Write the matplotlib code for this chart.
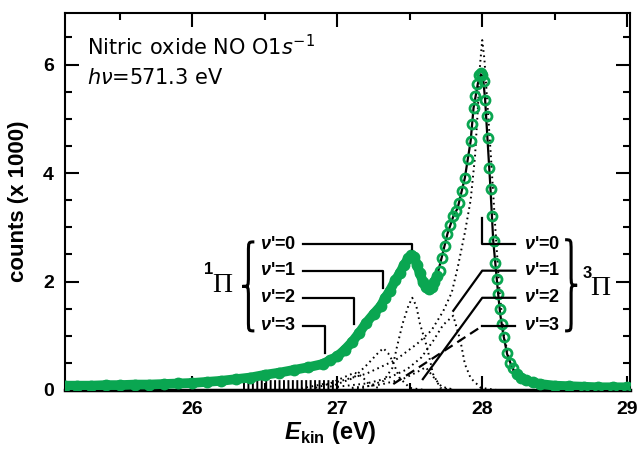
import numpy as np
import matplotlib
matplotlib.use('Agg')
import matplotlib.pyplot as plt
from matplotlib.path import Path
from matplotlib.patches import PathPatch

plt.rcParams['font.family'] = ['Liberation Sans', 'DejaVu Sans']
plt.rcParams['mathtext.fontset'] = 'custom'
plt.rcParams['mathtext.it'] = 'DejaVu Sans:italic'
plt.rcParams['mathtext.rm'] = 'Liberation Sans:bold'
plt.rcParams['mathtext.bf'] = 'Liberation Sans:italic:bold'
plt.rcParams['mathtext.sf'] = 'DejaVu Sans'
plt.rcParams['lines.scale_dashes'] = False

# ---------------- data ----------------
data_e = [25.12, 25.2, 25.3, 25.4, 25.5, 25.6, 25.7, 25.8, 25.9, 26.0, 26.1, 26.2, 26.3, 26.4,
          26.5, 26.6, 26.7, 26.8, 26.9, 26.95, 27.0, 27.05, 27.1, 27.15, 27.2, 27.25, 27.3,
          27.33, 27.36, 27.4, 27.43, 27.46, 27.49, 27.51, 27.53, 27.55, 27.57, 27.59, 27.61,
          27.63, 27.65, 27.67, 27.69, 27.71, 27.72, 27.74, 27.76, 27.78, 27.80, 27.82, 27.84,
          27.86, 27.88, 27.90, 27.92, 27.93, 27.94, 27.95, 27.965, 27.98, 27.99, 28.00, 28.01,
          28.02, 28.03, 28.04, 28.05, 28.06, 28.07, 28.08, 28.09, 28.10, 28.11, 28.12, 28.135,
          28.15, 28.17, 28.19, 28.21, 28.24, 28.27, 28.30, 28.35, 28.40, 28.50, 28.60, 28.70,
          28.80, 28.90, 29.0]
data_y = [0.08, 0.08, 0.08, 0.09, 0.09, 0.10, 0.10, 0.11, 0.12, 0.13, 0.15, 0.17, 0.20, 0.23,
          0.28, 0.32, 0.37, 0.42, 0.48, 0.55, 0.62, 0.74, 0.88, 1.05, 1.24, 1.40, 1.55,
          1.70, 1.82, 2.02, 2.15, 2.30, 2.43, 2.48, 2.46, 2.30, 2.15, 2.00, 1.90,
          1.86, 1.90, 2.00, 2.10, 2.20, 2.44, 2.65, 2.88, 3.05, 3.20, 3.30, 3.45,
          3.67, 3.91, 4.25, 4.59, 4.90, 5.20, 5.42, 5.65, 5.80, 5.85, 5.80, 5.70,
          5.35, 5.05, 4.65, 4.10, 3.70, 3.20, 2.75, 2.35, 2.05, 1.77, 1.50, 1.22,
          0.98, 0.68, 0.50, 0.40, 0.30, 0.22, 0.18, 0.14, 0.11, 0.08, 0.07, 0.06,
          0.05, 0.05, 0.05]

fit_e = [25.12, 25.5, 26.0, 26.4, 26.7, 26.9, 27.0, 27.1, 27.2, 27.3, 27.4, 27.48, 27.52,
         27.56, 27.6, 27.64, 27.68, 27.72, 27.76, 27.80, 27.83, 27.88, 27.92, 27.94, 27.97,
         27.99, 28.005, 28.02, 28.055, 28.076, 28.11, 28.124, 28.145, 28.172, 28.207, 28.262,
         28.33, 28.45, 28.7, 29.02]
fit_y = [0.08, 0.09, 0.13, 0.23, 0.37, 0.47, 0.62, 0.88, 1.24, 1.55, 2.02, 2.40, 2.47,
         2.25, 1.95, 1.88, 2.02, 2.44, 2.88, 3.20, 3.35, 3.91, 4.59, 5.20, 5.65,
         5.82, 5.78, 5.35, 3.80, 2.75, 1.77, 1.40, 1.03, 0.66, 0.41, 0.22,
         0.15, 0.08, 0.05, 0.04]

# component profiles (dotted)
t3_v0_e = [27.00, 27.20, 27.40, 27.55, 27.65, 27.73, 27.79, 27.83, 27.88, 27.92, 27.95, 27.97,
           27.985, 28.00, 28.015, 28.03, 28.06, 28.09, 28.12, 28.15, 28.20, 28.30, 28.50]
t3_v0_y = [0.15, 0.30, 0.55, 0.85, 1.10, 1.45, 1.80, 2.25, 2.90, 3.50, 4.30, 5.20,
           6.00, 6.45, 6.10, 5.50, 4.30, 3.00, 1.80, 1.00, 0.40, 0.10, 0.02]
t3_v1_e = [27.00, 27.20, 27.35, 27.48, 27.58, 27.66, 27.73, 27.80, 27.85, 27.88, 27.92, 27.99, 28.10]
t3_v1_y = [0.06, 0.12, 0.22, 0.38, 0.60, 0.90, 1.20, 1.37, 0.90, 0.48, 0.22, 0.04, 0.00]
t3_v2_e = [27.10, 27.30, 27.45, 27.55, 27.61, 27.66, 27.72, 27.80]
t3_v2_y = [0.04, 0.10, 0.20, 0.33, 0.42, 0.25, 0.06, 0.01]
s1_v0_e = [27.10, 27.18, 27.32, 27.38, 27.41, 27.45, 27.49, 27.517, 27.545, 27.57, 27.62, 27.66, 27.71, 27.80]
s1_v0_y = [0.01, 0.04, 0.17, 0.41, 0.78, 1.22, 1.55, 1.70, 1.55, 1.22, 0.78, 0.30, 0.04, 0.00]
s1_v1_e = [26.95, 27.00, 27.11, 27.21, 27.28, 27.317, 27.35, 27.38, 27.43, 27.50, 27.60]
s1_v1_y = [0.06, 0.11, 0.22, 0.48, 0.68, 0.77, 0.68, 0.54, 0.22, 0.04, 0.00]
s1_v2_e = [26.85, 26.95, 27.05, 27.12, 27.17, 27.22, 27.30]
s1_v2_y = [0.04, 0.12, 0.24, 0.32, 0.25, 0.10, 0.02]
s1_v3_e = [26.75, 26.85, 26.92, 26.97, 27.03]
s1_v3_y = [0.03, 0.08, 0.12, 0.08, 0.02]

comb_e = [26.35, 27.0]
comb_y = [0.10, 0.10]

xticks = [26, 27, 28, 29]
yticks = [0, 2, 4, 6]
vib_labels = ["0", "1", "2", "3"]

# leader geometry (label rows and target points)
row_y = [2.69, 2.20, 1.70, 1.18]
s1_target_e = [27.517, 27.317, 27.117, 26.917]
s1_target_y = [2.60, 1.88, 1.22, 0.68]
t3_target_e = [28.0, 27.80, 27.59, 27.386]
t3_target_y = [3.17, 1.46, 0.20, 0.11]

green = '#0aa651'

fig = plt.figure(figsize=(6.39, 4.49), dpi=100)
ax = fig.add_axes([65/639, 59/449, 565/639, 377/449])
ax.set_xlim(25.12, 29.02)
ax.set_ylim(0, 6.95)

# components
for ce, cy in [(t3_v0_e, t3_v0_y), (t3_v1_e, t3_v1_y), (t3_v2_e, t3_v2_y),
               (s1_v0_e, s1_v0_y), (s1_v1_e, s1_v1_y), (s1_v2_e, s1_v2_y), (s1_v3_e, s1_v3_y)]:
    ax.plot(ce, cy, color='black', lw=1.4, linestyle=(0, (1.2, 2.6)), zorder=2)

ax.plot(comb_e, comb_y, color='black', lw=7, dashes=(1.4, 1.8), solid_capstyle='butt',
        dash_capstyle='butt', zorder=2)

# fit
ax.plot(fit_e, fit_y, color='black', lw=1.6, zorder=3)

# data: dense band where points overlap, open circles elsewhere
de = np.array(data_e)
dy = np.array(data_y)
band = np.where((de < 27.70) | (de > 28.22), dy, np.nan)
ax.plot(de, band, color=green, lw=7, solid_capstyle='round', solid_joinstyle='round', zorder=4)
ax.plot(de, dy, linestyle='none', marker='o', ms=6.5, mfc='none', mec=green, mew=2.0, zorder=4)

# leader lines, 1Pi side
lx0 = 26.766
for ry, te, ty in zip(row_y, s1_target_e, s1_target_y):
    ax.plot([lx0, te, te], [ry, ry, ty], color='black', lw=1.6, zorder=5)
# leader lines, 3Pi side
rx1 = 28.228
ax.plot([t3_target_e[0], t3_target_e[0], rx1], [t3_target_y[0], row_y[0], row_y[0]],
        color='black', lw=1.6, zorder=5)
for k in (1, 2):
    ax.plot([t3_target_e[k], 28.0, rx1], [t3_target_y[k], row_y[k], row_y[k]],
            color='black', lw=1.6, zorder=5)
ax.plot([28.0, rx1], [row_y[3], row_y[3]], color='black', lw=1.6, zorder=5)
ax.plot([t3_target_e[3], 28.0], [t3_target_y[3], row_y[3]], color='black', lw=1.6,
        dashes=(7, 4), zorder=5)

# labels
for ry, v in zip(row_y, vib_labels):
    ax.text(26.717, ry, r"$\mathbf{\nu}$'=" + v, ha='right', va='center',
            fontsize=13, fontweight='bold', zorder=6)
    ax.text(28.29, ry, r"$\mathbf{\nu}$'=" + v, ha='left', va='center',
            fontsize=13, fontweight='bold', zorder=6)

def brace(x_end, x_tip, y_top, y_bot):
    xm = (x_end + x_tip) / 2
    ym = (y_top + y_bot) / 2
    d = 0.12 * (y_top - y_bot)
    verts = [(x_end, y_top), (xm, y_top), (xm, y_top), (xm, y_top - d),
             (xm, ym + d),
             (xm, ym), (xm, ym), (x_tip, ym),
             (xm, ym), (xm, ym), (xm, ym - d),
             (xm, y_bot + d),
             (xm, y_bot), (xm, y_bot), (x_end, y_bot)]
    codes = [Path.MOVETO, Path.CURVE4, Path.CURVE4, Path.CURVE4,
             Path.LINETO,
             Path.CURVE4, Path.CURVE4, Path.CURVE4,
             Path.CURVE4, Path.CURVE4, Path.CURVE4,
             Path.LINETO,
             Path.CURVE4, Path.CURVE4, Path.CURVE4]
    ax.add_patch(PathPatch(Path(verts, codes), fill=False, lw=2.2, color='black', zorder=6))

brace(26.427, 26.345, 2.73, 1.09)
brace(28.572, 28.655, 2.77, 1.09)

ax.text(26.207, 1.92, "\u03a0", fontsize=20, family=['Liberation Serif'], ha='center', va='center')
ax.text(26.11, 2.22, "1", fontsize=12, fontweight='bold', ha='center', va='center')
ax.text(28.815, 1.88, "\u03a0", fontsize=20, family=['Liberation Serif'], ha='center', va='center')
ax.text(28.725, 2.14, "3", fontsize=12, fontweight='bold', ha='center', va='center')

ax.text(0.039, 0.912, r"Nitric oxide NO O1$s^{\mathsf{-1}}$", transform=ax.transAxes,
        fontsize=15, ha='left', va='center', family=['DejaVu Sans'])
ax.text(0.039, 0.828, r"$h\nu$=571.3 eV", transform=ax.transAxes,
        fontsize=15, ha='left', va='center', family=['DejaVu Sans'])

# axes styling
ax.set_xticks(xticks)
ax.set_xticklabels([str(t) for t in xticks])
ax.set_yticks(yticks)
ax.set_yticklabels([str(t) for t in yticks])
ax.set_xticks([25.5, 26.5, 27.5, 28.5], minor=True)
ax.set_yticks([0.5, 1, 1.5, 2.5, 3, 3.5, 4.5, 5, 5.5, 6.5], minor=True)
ax.tick_params(which='both', direction='in', top=True, right=True, width=1.5)
ax.tick_params(which='major', length=10, labelsize=14, pad=8)
ax.tick_params(which='minor', length=5)
for lab in ax.get_xticklabels() + ax.get_yticklabels():
    lab.set_fontweight('bold')
for sp in ax.spines.values():
    sp.set_linewidth(1.5)
ax.spines['bottom'].set_linewidth(2.5)

ax.set_ylabel("counts (x 1000)", fontsize=16, fontweight='bold', labelpad=10)
fig.text(330/639, 16/449, r"$\mathbf{E}_{\mathrm{kin}}$ (eV)", fontsize=17,
         fontweight='bold', ha='center', va='center')

fig.savefig('out.png', dpi=100)
